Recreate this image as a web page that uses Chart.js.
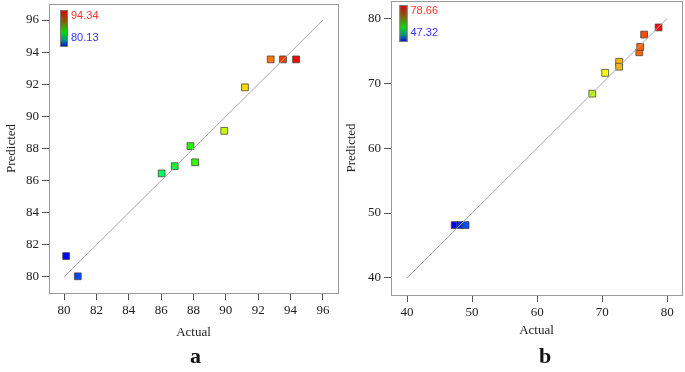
<!DOCTYPE html>
<html>
<head>
<meta charset="utf-8">
<script src="https://cdn.jsdelivr.net/npm/chart.js@4.4.1/dist/chart.umd.min.js"></script>
<style>
  body { margin: 0; background: #fff; width: 685px; height: 372px; overflow: hidden; position: relative; }
  canvas { position: absolute; top: 0; }
  #chartA { left: 0; }
  #chartB { left: 340px; }
  .tag { position: absolute; top: 343px; font: bold 22px 'Liberation Serif', serif; color: #111; }
</style>
</head>
<body>
<canvas id="chartA" width="345" height="345"></canvas>
<canvas id="chartB" width="345" height="345"></canvas>
<div class="tag" style="left:190px">a</div>
<div class="tag" style="left:539px">b</div>
<script>
// panel a
const actualA = [80.13, 80.85, 86.03, 86.84, 87.81, 88.10, 89.90, 91.18, 92.77, 93.53, 94.34];
const predictedA = [81.30, 80.04, 86.45, 86.90, 88.15, 87.14, 89.10, 91.81, 93.55, 93.55, 93.55];
const ticksA = [80, 82, 84, 86, 88, 90, 92, 94, 96];
const diagA = [80, 96];

// panel b
const actualB = [47.32, 48.15, 49.00, 68.47, 70.46, 72.60, 72.60, 75.70, 75.83, 76.44, 78.66];
const predictedB = [48.15, 48.15, 48.15, 68.40, 71.60, 73.30, 72.55, 74.77, 75.60, 77.50, 78.60];
const ticksB = [40, 50, 60, 70, 80];
const diagB = [40, 80];

// blue -> green -> yellow -> red, like the design software legend
const hueStops = [[0, 240], [0.06, 220], [0.42, 140], [0.56, 108], [0.69, 72], [0.74, 60], [0.81, 43], [0.9, 26], [0.94, 14], [1, 0]];
function colorFor(v, min, max) {
    const t = (v - min) / (max - min);
    for (let i = 1; i < hueStops.length; i++) {
        if (t <= hueStops[i][0]) {
            const [t0, h0] = hueStops[i - 1];
            const [t1, h1] = hueStops[i];
            const h = h0 + (h1 - h0) * (t - t0) / (t1 - t0);
            return `hsl(${h.toFixed(0)}, 100%, 50%)`;
        }
    }
    return 'hsl(0, 100%, 50%)';
}

const frameAndBar = {
    id: 'frameAndBar',
    afterDraw(chart, args, opts) {
        const { ctx, chartArea: a } = chart;
        ctx.save();
        ctx.strokeStyle = '#9a9a9a';
        ctx.lineWidth = 1;
        ctx.strokeRect(Math.round(a.left) + 0.5, Math.round(a.top) + 0.5, Math.round(a.right - a.left), Math.round(a.bottom - a.top));

        const x = a.left + opts.dx, y = a.top + opts.dy, w = 8, h = 37;
        const g = ctx.createLinearGradient(0, y, 0, y + h);
        g.addColorStop(0, '#e00000');
        g.addColorStop(0.3, '#8a5a00');
        g.addColorStop(0.6, '#00dd00');
        g.addColorStop(0.8, '#009a7a');
        g.addColorStop(1, '#0000e0');
        ctx.fillStyle = g;
        ctx.fillRect(x, y, w, h);
        ctx.strokeStyle = '#777';
        ctx.strokeRect(x + 0.5, y + 0.5, w - 1, h - 1);

        ctx.font = "11px 'Liberation Sans', Arial, sans-serif";
        ctx.textBaseline = 'middle';
        ctx.fillStyle = '#ff3333';
        ctx.fillText(opts.max.toFixed(2), x + w + 3, y + 6);
        ctx.fillStyle = '#3333ff';
        ctx.fillText(opts.min.toFixed(2), x + w + 3, y + 28);
        ctx.restore();
    }
};

function makeChart(id, actual, predicted, tickValues, diag, cfg) {
    const min = Math.min(...actual), max = Math.max(...actual);
    const points = actual.map((v, i) => ({ x: v, y: predicted[i] }));
    const colors = actual.map(v => colorFor(v, min, max));
    const tickFont = { family: "'Liberation Serif', 'Times New Roman', serif", size: 13 };
    const setTicks = scale => { scale.ticks = tickValues.map(v => ({ value: v })); };
    const common = {
        type: 'linear',
        afterBuildTicks: setTicks,
        border: { display: false },
        grid: { drawOnChartArea: false, drawTicks: true, tickLength: 7, color: '#555' },
        ticks: { font: tickFont, color: '#222', padding: 3 }
    };
    return new Chart(document.getElementById(id), {
        type: 'scatter',
        data: {
            datasets: [{
                type: 'line',
                data: diag.map(v => ({ x: v, y: v })),
                borderColor: '#a8a8a8',
                borderWidth: 1,
                pointRadius: 0,
                order: 0
            }, {
                data: points,
                pointStyle: 'rect',
                pointRadius: 4.8,
                pointBackgroundColor: colors,
                pointBorderColor: 'rgba(70,70,70,0.8)',
                pointBorderWidth: 1,
                order: 1
            }]
        },
        options: {
            responsive: false,
            animation: false,
            events: [],
            layout: { padding: cfg.padding, autoPadding: false },
            scales: {
                x: {
                    ...common,
                    position: 'bottom',
                    min: cfg.xRange[0], max: cfg.xRange[1],
                    afterFit: s => { s.height = cfg.xHeight; s.paddingLeft = 0; s.paddingRight = 0; },
                    title: { display: true, text: 'Actual', font: tickFont, color: '#222', padding: { top: 0, bottom: cfg.xTitlePad } }
                },
                y: {
                    ...common,
                    position: 'left',
                    min: cfg.yRange[0], max: cfg.yRange[1],
                    afterFit: s => { s.width = cfg.yWidth; s.paddingTop = 0; s.paddingBottom = 0; },
                    title: { display: true, text: 'Predicted', font: tickFont, color: '#222', padding: { top: 4, bottom: 0 } }
                }
            },
            plugins: {
                legend: { display: false },
                tooltip: { enabled: false },
                frameAndBar: { dx: cfg.barDx, dy: cfg.barDy, min, max }
            }
        },
        plugins: [frameAndBar]
    });
}

makeChart('chartA', actualA, predictedA, ticksA, diagA, {
    padding: { top: 4, right: 7, left: 0, bottom: 0 },
    xRange: [79.07, 96.93], yRange: [79.0, 97.0],
    xHeight: 52, yWidth: 49, xTitlePad: 5, barDx: 11, barDy: 6
});

makeChart('chartB', actualB, predictedB, ticksB, diagB, {
    padding: { top: 1, right: 3, left: 0, bottom: 0 },
    xRange: [37.54, 82.26], yRange: [37.38, 82.67],
    xHeight: 50, yWidth: 51, xTitlePad: 7, barDx: 8.5, barDy: 4
});
</script>
</body>
</html>
